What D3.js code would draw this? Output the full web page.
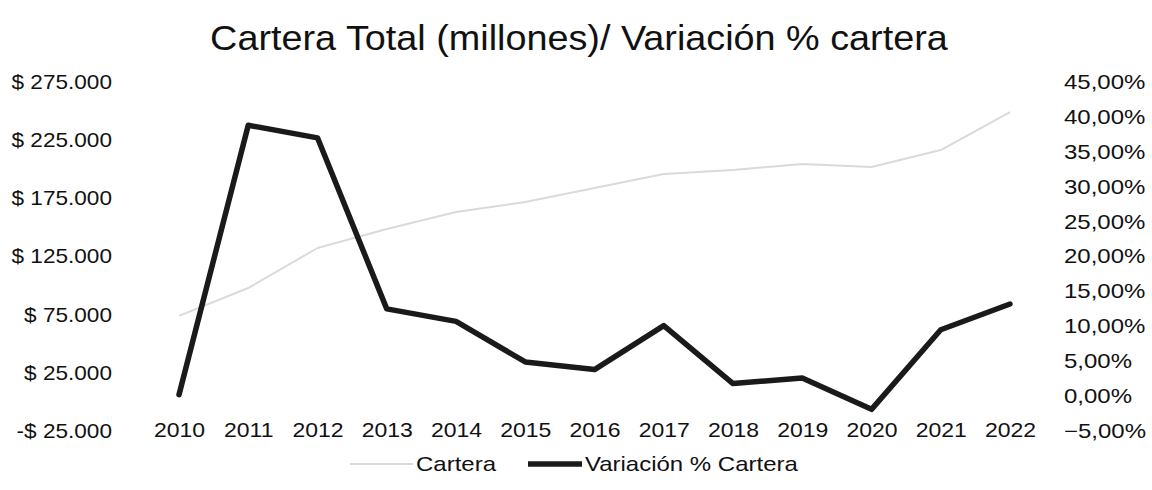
<!DOCTYPE html>
<html>
<head>
<meta charset="utf-8">
<script src="https://cdn.jsdelivr.net/npm/d3@7"></script>
<style>
  body { margin: 0; background: #fff; }
  text { font-family: "Liberation Sans", Arial, sans-serif; fill: #111; }
  /* el texto del original esta un poco estirado a lo ancho */
  .titulo { transform-box: fill-box; transform-origin: center; transform: scaleX(1.08); }
  .izq text { transform-box: fill-box; transform-origin: right center; transform: scaleX(1.13); }
  .der text { transform-box: fill-box; transform-origin: left center; transform: scaleX(1.2); }
  .ejex text { transform-box: fill-box; transform-origin: center; transform: scaleX(1.15); }
  .leyenda text { transform-box: fill-box; transform-origin: left center; transform: scaleX(1.2); }
</style>
</head>
<body>
<svg class="grafico"></svg>
<script>
// datos
var anios = ["2010", "2011", "2012", "2013", "2014", "2015", "2016",
  "2017", "2018", "2019", "2020", "2021", "2022"];
var cartera = [73900, 97900, 132300, 148600, 163300, 171800, 183900,
  195900, 199400, 204500, 201900, 216500, 249200];
var variacion = [0.2, 38.8, 37.0, 12.5, 10.7, 4.9, 3.8,
  10.1, 1.8, 2.6, -1.9, 9.5, 13.2];
var ticksIzq = [-25000, 25000, 75000, 125000, 175000, 225000, 275000];
var ticksDer = [-5, 0, 5, 10, 15, 20, 25, 30, 35, 40, 45];

var w = 1152, h = 490;
var svg = d3.select(".grafico").attr("width", w).attr("height", h);

var x = d3.scalePoint().domain(anios).range([179, 1010]);
var yIzq = d3.scaleLinear().domain([-25000, 275000]).range([431, 82]);
var yDer = d3.scaleLinear().domain([-5, 45]).range([431, 82]);

// formato $ 275.000
function fmtPesos(v) {
  var s = d3.format(",")(Math.abs(v)).replace(/,/g, ".");
  return (v < 0 ? "-$ " : "$ ") + s;
}
function fmtPct(v) {
  return d3.format(".2f")(v).replace(".", ",") + "%";
}

// titulo
svg.append("text")
  .attr("class", "titulo")
  .attr("x", 579)
  .attr("y", 50)
  .attr("text-anchor", "middle")
  .style("font-size", "35px")
  .text("Cartera Total (millones)/ Variación % cartera");

// eje izquierdo
var ejeIzq = svg.append("g")
  .attr("class", "izq")
  .attr("transform", "translate(112,0)")
  .call(d3.axisLeft(yIzq).tickValues(ticksIzq).tickFormat(fmtPesos).tickSize(0).tickPadding(0));

// eje derecho
var ejeDer = svg.append("g")
  .attr("class", "der")
  .attr("transform", "translate(1064,0)")
  .call(d3.axisRight(yDer).tickValues(ticksDer).tickFormat(fmtPct).tickSize(0).tickPadding(0));

// eje x (etiquetas abajo)
var ejeX = svg.append("g")
  .attr("class", "ejex")
  .attr("transform", "translate(0,431)")
  .call(d3.axisBottom(x).tickSize(0).tickPadding(0));
ejeX.selectAll("text").attr("dy", "0.32em");

[ejeIzq, ejeDer, ejeX].forEach(function(e) {
  e.select(".domain").remove();
  e.selectAll("text")
    .style("font-size", "20px")
    .style("font-family", "'Liberation Sans', Arial, sans-serif")
    .attr("fill", "#111");
});

// lineas
var lineaCartera = d3.line()
  .x(function(d, i) { return x(anios[i]); })
  .y(function(d) { return yIzq(d); });

var lineaVar = d3.line()
  .x(function(d, i) { return x(anios[i]); })
  .y(function(d) { return yDer(d); });

svg.append("path")
  .datum(cartera)
  .attr("d", lineaCartera)
  .attr("fill", "none")
  .attr("stroke", "#dadada")
  .attr("stroke-width", 2)
  .attr("stroke-linejoin", "round");

svg.append("path")
  .datum(variacion)
  .attr("d", lineaVar)
  .attr("fill", "none")
  .attr("stroke", "#1a1a1a")
  .attr("stroke-width", 5.5)
  .attr("stroke-linejoin", "round")
  .attr("stroke-linecap", "round");

// leyenda
var leyenda = [
  { nombre: "Cartera", color: "#dadada", ancho: 2, x0: 350, x1: 413 },
  { nombre: "Variación % Cartera", color: "#1a1a1a", ancho: 5.5, x0: 528, x1: 582 }
];
var ly = 464;
var item = svg.append("g").attr("class", "leyenda")
  .selectAll("g").data(leyenda).enter().append("g");
item.append("line")
  .attr("x1", function(d) { return d.x0; })
  .attr("x2", function(d) { return d.x1; })
  .attr("y1", ly).attr("y2", ly)
  .attr("stroke", function(d) { return d.color; })
  .attr("stroke-width", function(d) { return d.ancho; });
item.append("text")
  .attr("x", function(d) { return d.x1 + 3; })
  .attr("y", ly)
  .attr("dy", "0.35em")
  .style("font-size", "20px")
  .text(function(d) { return d.nombre; });
</script>
</body>
</html>
